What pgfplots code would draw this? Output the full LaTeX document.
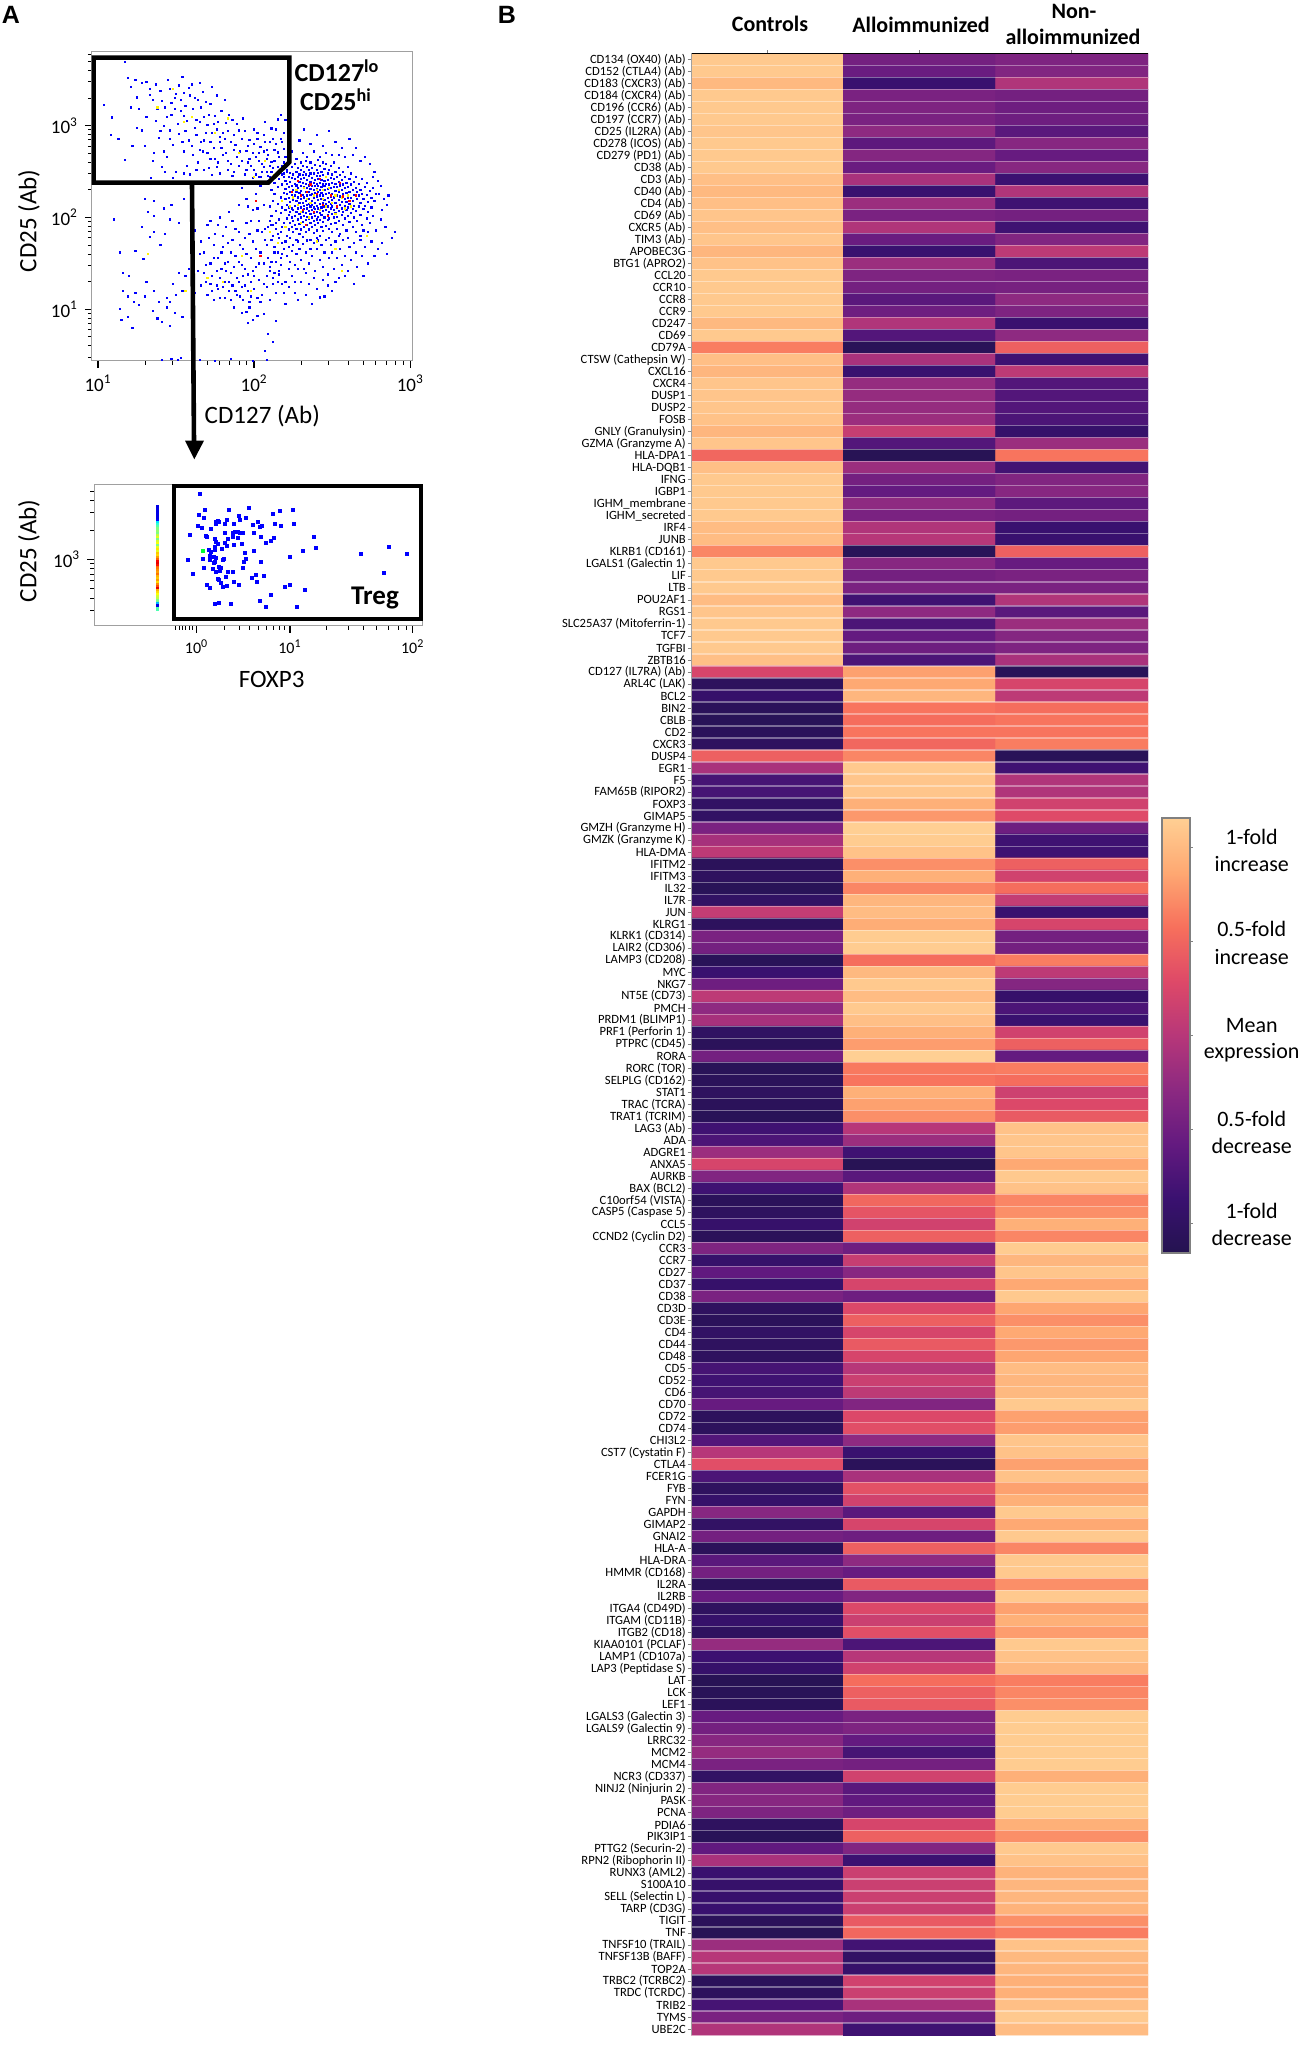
\documentclass[border=0pt]{standalone}
\usepackage{pgfplots}
\usepackage{fontspec}
\setmainfont{Carlito}
\newfontfamily\panelfont{Liberation Sans}
\pgfplotsset{compat=1.18}
\definecolor{framegray}{HTML}{A0A0A0}
\newcommand{\fs}[1]{\fontsize{#1}{#1}\selectfont}

\begin{document}
\begin{tikzpicture}
\path[use as bounding box] (0,0) rectangle (649pt,1023pt);

% A: CD25 vs CD127, values in log10 units
\begin{axis}[
    at={(46pt,842.5pt)}, anchor=south west,
    scale only axis, width=160.5pt, height=154.5pt,
    xmin=0.9615, xmax=3.017, ymin=0.436, ymax=3.804,
    xtick={1,2,3}, xticklabels={10\textsuperscript{1},10\textsuperscript{2},10\textsuperscript{3}},
    ytick={1,2,3}, yticklabels={10\textsuperscript{1},10\textsuperscript{2},10\textsuperscript{3}},
    minor xtick={1.301,1.477,1.602,1.699,1.778,1.845,1.903,1.954,2.301,2.477,2.602,2.699,2.778,2.845,2.903,2.954},
    minor ytick={0.477,0.602,0.699,0.778,0.845,0.903,0.954,1.301,1.477,1.602,1.699,1.778,1.845,1.903,1.954,2.301,2.477,2.602,2.699,2.778,2.845,2.903,2.954,3.301,3.477,3.602,3.699,3.778},
    tick pos=left, tick align=outside,
    major tick length=3.5pt, minor tick length=2pt,
    major tick style={black,line width=.7pt}, minor tick style={black,line width=.5pt},
    axis line style={framegray,line width=.5pt},
    ticklabel style={font=\fs{9.5}},
    only marks, clip=true,
]
\addplot[only marks,mark=square*,mark size=.3pt,color=blue] coordinates {
% inside the gate
(1.17,3.70)(1.04,3.23)(1.09,3.09)(1.25,3.31)(1.21,3.42)(1.28,3.47)(1.31,3.48)(1.37,3.45)(1.24,3.50)(1.19,3.52)
(1.08,2.90)(1.17,2.63)(1.13,2.86)(1.22,2.78)(1.36,2.70)(1.35,2.62)(1.39,2.87)(1.42,3.00)(1.31,3.10)(1.28,2.95)
(1.35,3.28)(1.40,3.38)(1.46,3.40)(1.49,3.30)(1.52,3.44)(1.43,3.20)(1.38,3.18)(1.47,3.12)(1.51,3.02)(1.56,3.22)
(1.55,3.36)(1.60,3.45)(1.58,3.41)(1.62,3.30)(1.65,3.47)(1.67,3.37)(1.69,3.26)(1.71,3.12)(1.73,3.42)(1.74,3.02)
(1.76,3.33)(1.79,3.16)(1.81,3.28)(1.84,3.12)(1.86,3.06)(1.83,2.94)(1.78,2.88)(1.74,2.76)(1.69,2.92)(1.65,3.04)
(1.62,2.98)(1.58,2.84)(1.55,2.72)(1.52,2.91)(1.48,2.79)(1.44,2.66)(1.41,2.55)(1.50,2.50)(1.57,2.56)(1.61,2.68)
(1.64,2.60)(1.67,2.72)(1.71,2.54)(1.75,2.64)(1.78,2.48)(1.82,2.70)(1.85,2.58)(1.88,2.79)(1.90,2.95)(1.92,2.62)
(1.94,2.47)(1.95,2.73)(1.97,2.85)(1.98,2.56)(2.00,2.96)(2.01,2.66)(2.03,2.44)(2.04,2.77)(2.05,2.58)(2.06,2.90)
(2.07,3.04)(2.08,2.50)(2.09,2.68)(2.10,2.82)(2.11,2.61)(2.12,2.44)(2.13,2.74)(2.14,2.96)(2.15,2.55)(2.16,2.66)
(2.17,2.86)(2.18,2.47)(2.19,2.60)(2.19,2.75)(2.20,3.06)(2.21,2.50)(2.20,2.66)(2.17,3.12)(2.15,3.07)(2.11,2.97)
(2.08,2.64)(2.03,2.70)(2.00,2.52)(1.96,2.60)(1.91,2.72)(1.87,2.50)(1.83,2.62)(1.79,2.76)(1.76,2.55)(1.72,2.82)
(1.66,2.82)(1.60,3.10)(1.57,3.05)(1.53,3.16)(1.46,2.95)(1.33,3.40)(1.26,3.18)(1.45,3.50)(1.54,3.53)(1.64,3.28)
(1.77,3.04)(1.89,3.02)(1.93,3.08)(2.02,2.86)(2.06,2.72)(2.12,2.54)(2.16,2.48)(2.09,2.45)(1.99,2.43)(1.86,2.45)
(1.73,2.46)(1.59,2.47)(1.48,2.43)(1.34,2.43)(1.42,2.72)(1.37,3.05)(1.50,3.35)(1.68,3.10)(1.80,2.92)(1.70,2.70)
(1.33,3.34)(1.41,3.27)(1.47,3.25)(1.53,3.28)(1.59,3.33)(1.61,3.18)(1.66,3.20)(1.72,3.24)(1.75,3.11)(1.82,3.03)
(1.87,2.90)(1.92,2.86)(1.96,2.78)(1.99,2.70)(2.03,2.62)(2.06,2.55)(2.10,2.56)(2.13,2.62)(2.15,2.71)(2.18,2.56)
(2.07,2.82)(2.02,2.92)(1.94,2.94)(1.85,2.82)(1.81,2.86)(1.76,2.96)(1.70,3.01)(1.63,3.06)(1.55,3.11)(1.49,3.18)
(1.44,3.10)(1.40,2.94)(1.46,2.86)(1.54,2.82)(1.60,2.78)(1.65,2.74)(1.72,2.64)(1.77,2.60)(1.83,2.52)(1.90,2.56)
(1.95,2.52)(2.01,2.47)(2.05,2.50)(2.11,2.50)(2.14,2.46)(2.18,2.52)(2.19,2.44)(2.04,2.44)(1.97,2.64)(1.89,2.66)
(1.80,2.68)(1.68,2.52)(1.63,2.52)(1.55,2.48)(1.43,2.50)(1.30,2.78)(1.25,2.98)(1.21,3.20)(1.56,2.94)(1.63,2.90)
(1.68,2.84)(1.73,2.92)(1.78,2.82)(1.87,2.74)(2.00,2.80)(2.08,2.74)(2.12,2.86)(2.18,2.82)(2.19,2.92)(2.14,2.80)
% upper right of the cluster
(2.24,2.72)(2.27,2.64)(2.29,2.84)(2.31,2.70)(2.32,2.96)(2.34,2.66)(2.36,2.80)(2.38,2.72)(2.40,2.90)(2.42,2.66)
(2.44,2.78)(2.46,2.70)(2.48,2.94)(2.50,2.68)(2.52,2.82)(2.54,2.68)(2.56,2.76)(2.58,2.66)(2.61,2.86)(2.63,2.68)
(2.65,2.76)(2.68,2.62)(2.71,2.66)(2.74,2.58)(2.77,2.50)(2.76,2.44)(2.79,2.40)(2.81,2.34)(2.80,2.26)(2.83,2.20)
(2.85,2.14)(2.82,2.08)(2.86,2.24)(2.81,1.98)(2.84,1.90)(2.88,1.78)(2.90,1.84)(2.78,1.86)
% dense cluster, slice by slice
(2.10,2.44)(2.10,2.12)(2.10,1.96)(2.11,2.30)(2.11,2.02)(2.12,2.18)(2.12,1.92)(2.13,2.38)(2.13,2.26)(2.14,2.07)
(2.14,1.88)(2.15,2.33)(2.15,2.15)(2.16,2.42)(2.16,1.98)(2.17,2.22)(2.17,2.05)(2.17,1.84)(2.18,2.36)(2.18,2.11)
(2.19,2.27)(2.19,1.94)(2.19,2.48)(2.20,2.40)(2.20,2.20)(2.20,2.08)(2.20,1.90)(2.20,2.31)(2.21,2.52)(2.21,2.14)
(2.21,1.99)(2.21,2.26)(2.21,1.80)(2.21,2.37)(2.22,2.44)(2.22,2.21)(2.22,2.03)(2.22,2.33)(2.22,1.87)(2.22,2.11)
(2.23,2.28)(2.23,2.49)(2.23,1.94)(2.23,2.17)(2.23,2.39)(2.23,2.06)(2.23,1.78)(2.24,2.55)(2.24,2.25)(2.24,2.10)
(2.24,1.90)(2.24,2.34)(2.24,2.00)(2.24,2.43)(2.25,2.19)(2.25,2.30)(2.25,1.96)(2.25,2.47)(2.25,2.08)(2.25,1.84)
(2.26,2.37)(2.26,2.24)(2.26,2.13)(2.26,2.58)(2.26,2.02)(2.26,1.92)(2.26,2.42)(2.27,2.28)(2.27,2.18)(2.27,1.76)
(2.27,2.50)(2.27,2.06)(2.27,2.35)(2.27,1.88)(2.28,2.44)(2.28,2.22)(2.28,2.10)(2.28,1.98)(2.28,2.32)(2.28,2.54)
(2.29,2.16)(2.29,2.39)(2.29,2.04)(2.29,1.82)(2.29,2.27)(2.29,2.47)(2.29,1.93)(2.30,2.60)(2.30,2.34)(2.30,2.20)
(2.30,2.11)(2.30,2.42)(2.30,2.00)(2.30,1.87)(2.30,2.29)(2.30,2.52)(2.31,2.16)(2.31,2.38)(2.31,2.06)(2.31,1.95)
(2.31,2.25)(2.31,2.46)(2.31,1.79)(2.31,2.56)(2.32,2.13)(2.32,2.33)(2.32,2.22)(2.32,2.02)(2.32,1.90)(2.32,2.43)
(2.32,2.50)(2.32,2.09)(2.33,2.28)(2.33,2.18)(2.33,2.37)(2.33,1.97)(2.33,2.62)(2.33,1.84)(2.33,2.05)(2.33,2.47)
(2.34,2.24)(2.34,2.14)(2.34,2.41)(2.34,2.32)(2.34,1.92)(2.34,2.55)(2.34,2.01)(2.34,2.10)(2.35,2.35)(2.35,2.20)
(2.35,2.45)(2.35,2.07)(2.35,1.87)(2.35,2.28)(2.35,1.99)(2.35,2.52)(2.35,2.15)(2.36,2.39)(2.36,2.25)(2.36,1.94)
(2.36,2.04)(2.36,2.60)(2.36,2.31)(2.36,2.12)(2.36,2.48)(2.36,1.76)(2.37,2.18)(2.37,2.43)(2.37,2.08)(2.37,2.34)
(2.37,1.90)(2.37,2.54)(2.37,2.00)(2.37,2.26)(2.37,2.14)(2.38,2.38)(2.38,2.21)(2.38,1.96)(2.38,2.48)(2.38,2.11)
(2.38,2.30)(2.38,1.83)(2.38,2.05)(2.39,2.57)(2.39,2.27)(2.39,2.16)(2.39,2.41)(2.39,2.02)(2.39,1.92)(2.39,2.34)
(2.39,2.09)(2.40,2.45)(2.40,2.23)(2.40,2.13)(2.40,1.98)(2.40,2.31)(2.40,2.52)(2.40,2.06)(2.40,1.86)(2.40,2.37)
(2.41,2.19)(2.41,2.63)(2.41,2.28)(2.41,2.01)(2.41,2.10)(2.41,2.42)(2.41,1.94)(2.41,2.34)(2.41,2.49)(2.42,2.24)
(2.42,2.15)(2.42,2.38)(2.42,2.05)(2.42,1.80)(2.42,2.30)(2.42,2.56)(2.42,1.97)(2.42,2.45)(2.43,2.20)(2.43,2.11)
(2.43,2.33)(2.43,1.90)(2.43,2.50)(2.43,2.27)(2.43,2.03)(2.43,2.41)(2.44,2.16)(2.44,2.36)(2.44,2.60)(2.44,2.07)
(2.44,1.95)(2.44,2.24)(2.44,2.46)(2.44,1.85)(2.45,2.30)(2.45,2.12)(2.45,2.40)(2.45,2.00)(2.45,2.19)(2.45,2.53)
(2.45,2.34)(2.46,2.26)(2.46,2.08)(2.46,2.44)(2.46,1.91)(2.46,2.15)(2.46,2.37)(2.46,2.58)(2.47,2.21)(2.47,2.31)
(2.47,2.03)(2.47,1.97)(2.47,2.48)(2.47,2.12)(2.47,2.41)(2.48,2.27)(2.48,2.17)(2.48,1.88)(2.48,2.36)(2.48,2.06)
(2.48,2.52)(2.48,1.99)(2.49,2.23)(2.49,2.43)(2.49,2.10)(2.49,2.32)(2.49,1.93)(2.49,2.56)(2.49,2.15)(2.50,2.38)
(2.50,2.26)(2.50,2.04)(2.50,2.47)(2.50,2.19)(2.50,1.84)(2.50,2.12)(2.51,2.33)(2.51,2.00)(2.51,2.22)(2.51,2.42)
(2.51,2.08)(2.51,2.60)(2.52,2.29)(2.52,2.16)(2.52,1.94)(2.52,2.37)(2.52,2.05)(2.52,2.50)(2.53,2.24)(2.53,2.11)
(2.53,2.44)(2.53,1.88)(2.53,2.33)(2.53,2.01)(2.54,2.19)(2.54,2.39)(2.54,2.07)(2.54,2.28)(2.54,2.54)(2.54,1.96)
(2.55,2.14)(2.55,2.35)(2.55,2.46)(2.55,2.23)(2.55,1.82)(2.56,2.30)(2.56,2.03)(2.56,2.41)(2.56,2.10)(2.56,2.17)
(2.57,2.26)(2.57,1.92)(2.57,2.36)(2.57,2.50)(2.57,2.06)(2.58,2.20)(2.58,2.32)(2.58,1.99)(2.58,2.13)(2.58,2.44)
(2.59,2.27)(2.59,2.08)(2.59,2.38)(2.59,1.86)(2.59,2.17)(2.60,2.22)(2.60,2.55)(2.60,2.02)(2.60,2.33)(2.60,2.11)
(2.61,2.28)(2.61,1.95)(2.61,2.42)(2.61,2.15)(2.62,2.36)(2.62,2.05)(2.62,2.21)(2.62,2.48)(2.63,2.09)(2.63,2.30)
(2.63,1.90)(2.63,2.18)(2.64,2.39)(2.64,2.25)(2.64,2.00)(2.64,2.13)(2.65,2.32)(2.65,1.84)(2.65,2.07)(2.65,2.44)
(2.66,2.20)(2.66,2.28)(2.66,1.96)(2.67,2.12)(2.67,2.37)(2.67,2.24)(2.68,2.03)(2.68,2.30)(2.68,2.16)(2.69,1.92)
(2.69,2.26)(2.69,2.42)(2.70,2.09)(2.70,2.20)(2.70,1.86)(2.71,2.33)(2.71,2.13)(2.72,2.25)(2.72,1.99)(2.72,2.38)
(2.73,2.17)(2.73,2.06)(2.74,2.29)(2.74,1.94)(2.75,2.21)(2.75,2.11)(2.76,2.32)(2.76,2.02)(2.77,2.18)(2.78,2.26)
% spread under the cluster
(1.92,2.32)(1.95,2.20)(1.97,2.38)(1.99,2.08)(2.01,2.26)(2.03,1.96)(2.04,2.34)(2.06,2.14)(2.07,1.88)(2.09,2.40)
(2.10,1.84)(2.11,1.76)(2.12,1.80)(2.13,1.68)(2.14,1.94)(2.15,1.62)(2.16,1.78)(2.17,1.56)(2.18,1.72)(2.19,1.66)
(2.20,1.74)(2.21,1.58)(2.22,1.68)(2.23,1.52)(2.24,1.64)(2.25,1.70)(2.26,1.48)(2.27,1.60)(2.28,1.74)(2.29,1.66)
(2.30,1.54)(2.31,1.71)(2.32,1.44)(2.33,1.62)(2.34,1.75)(2.35,1.50)(2.36,1.66)(2.37,1.58)(2.38,1.72)(2.39,1.42)
(2.40,1.66)(2.41,1.75)(2.42,1.54)(2.43,1.70)(2.44,1.46)(2.45,1.62)(2.46,1.76)(2.47,1.38)(2.48,1.56)(2.49,1.70)
(2.50,1.62)(2.51,1.44)(2.52,1.74)(2.53,1.56)(2.54,1.34)(2.55,1.66)(2.56,1.48)(2.57,1.76)(2.58,1.58)(2.60,1.42)
(2.61,1.68)(2.62,1.54)(2.64,1.72)(2.65,1.62)(2.66,1.46)(2.68,1.76)(2.69,1.58)(2.71,1.68)(2.73,1.50)(2.75,1.74)
(2.77,1.58)(2.79,1.66)(2.82,1.72)(2.85,1.60)(2.73,1.84)(2.68,1.80)(2.60,1.78)(2.54,1.80)(2.48,1.78)(2.40,1.78)
(2.22,1.44)(2.18,1.60)(2.16,1.42)(2.14,1.52)(2.12,1.34)(2.10,1.46)(2.08,1.36)(2.24,1.36)(2.28,1.44)(2.30,1.30)
(2.33,1.40)(2.35,1.28)(2.38,1.34)(2.40,1.22)(2.44,1.32)(2.47,1.26)(2.52,1.30)(2.58,1.36)(2.64,1.28)(2.70,1.36)
(2.22,1.24)(2.26,1.18)(2.33,1.16)(2.37,1.06)(2.42,1.13)(2.45,1.14)(2.50,1.20)(2.28,1.10)(2.19,1.18)(2.26,1.30)
% lower left group
(1.62,1.86)(1.66,1.74)(1.68,1.62)(1.70,1.92)(1.72,1.50)(1.73,1.36)(1.74,1.70)(1.75,1.82)(1.76,1.26)(1.77,1.56)
(1.78,1.12)(1.79,1.44)(1.80,1.68)(1.81,1.30)(1.82,1.90)(1.83,1.52)(1.84,1.20)(1.85,1.40)(1.86,1.76)(1.87,1.02)
(1.88,1.58)(1.89,1.34)(1.90,1.84)(1.91,1.14)(1.92,1.48)(1.93,1.66)(1.94,1.26)(1.95,1.94)(1.96,1.38)(1.97,1.08)
(1.98,1.56)(1.99,1.74)(2.00,1.22)(2.01,1.46)(2.02,1.86)(2.03,1.32)(2.04,1.62)(2.05,1.16)(2.06,1.50)(2.07,1.76)
(2.08,1.24)(2.09,1.56)(2.10,1.42)(2.11,1.92)(2.12,1.28)(2.13,1.62)(2.14,1.18)(2.16,1.38)(2.18,1.28)(2.20,1.06)
(1.64,1.42)(1.66,1.26)(1.68,1.40)(1.70,1.16)(1.72,1.28)(1.74,1.10)(1.76,1.42)(1.78,1.34)(1.80,1.24)(1.82,1.42)
(1.84,1.30)(1.86,1.26)(1.88,1.20)(1.90,1.30)(1.92,1.24)(1.94,1.44)(1.96,1.20)(1.98,1.30)(2.00,1.36)(2.02,1.12)
(1.58,1.44)(1.60,1.30)(1.62,1.18)(1.56,1.36)(1.54,1.20)(1.52,1.40)(1.50,1.16)(1.48,1.28)(1.46,1.08)(1.44,1.12)
(1.72,1.96)(1.78,2.00)(1.84,2.06)(1.90,2.14)(1.86,1.96)(1.80,1.80)(1.96,2.12)(1.94,1.78)(1.98,1.96)(2.02,2.10)
(1.92,0.96)(1.95,0.97)(1.99,0.88)(2.02,0.93)(1.96,0.85)(1.97,1.02)(2.09,0.73)(2.12,0.64)(2.06,0.95)(2.14,0.87)
(1.65,1.60)(1.69,1.48)(1.71,1.78)(1.74,1.56)(1.77,1.92)(1.79,1.62)(1.81,1.50)(1.83,1.72)(1.85,1.62)(1.87,1.46)
(1.88,1.88)(1.90,1.52)(1.91,1.70)(1.93,1.36)(1.95,1.60)(1.97,1.82)(1.99,1.42)(2.01,1.66)(2.03,1.50)(2.05,1.84)
(2.06,1.28)(2.08,1.70)(2.09,1.90)(2.11,1.52)(2.13,1.40)(2.15,1.30)(2.17,1.48)(2.15,1.82)(2.18,1.90)(2.20,1.30)
(1.69,1.30)(1.73,1.20)(1.77,1.22)(1.81,1.12)(1.85,1.10)(1.89,1.16)(1.93,1.10)(1.98,1.14)(2.04,1.08)(2.10,1.10)
% sparse left
(1.14,1.62)(1.16,1.40)(1.20,1.36)(1.10,1.98)(1.24,1.64)(1.29,1.55)(1.33,1.79)(1.36,1.84)(1.40,1.70)(1.43,1.82)
(1.28,1.90)(1.32,2.06)(1.36,2.02)(1.30,2.20)(1.36,2.18)(1.42,2.10)(1.47,2.14)(1.46,1.98)(1.52,1.94)(1.55,2.20)
(1.16,1.20)(1.19,1.14)(1.23,1.08)(1.24,1.18)(1.31,1.30)(1.36,1.20)(1.39,1.08)(1.44,1.02)(1.41,0.86)(1.49,0.96)
(1.14,1.00)(1.15,0.88)(1.19,0.92)(1.22,0.80)(1.26,1.05)(1.30,1.14)(1.35,0.98)(1.38,0.90)(1.46,0.82)(1.54,0.92)
(1.41,0.45)(1.47,0.46)(1.51,0.45)(1.53,0.47)(1.65,0.45)(1.75,0.44)(1.99,0.44)(2.07,0.55)(2.08,0.45)(1.85,0.46)
};
\addplot[only marks,mark=square*,mark size=.3pt,color=yellow] coordinates {
(1.38,3.20)(1.48,3.40)(1.60,3.10)(1.75,2.92)(1.83,3.08)(1.55,3.04)(1.90,2.70)(2.07,2.62)(2.13,2.46)(2.00,2.44)
(2.25,2.22)(2.28,2.14)(2.32,2.32)(2.36,2.16)(2.38,2.24)(2.42,2.08)(2.44,2.20)(2.48,2.32)(2.50,2.16)(2.52,2.04)
(2.54,2.30)(2.56,2.22)(2.58,2.10)(2.60,2.24)(2.62,2.12)(2.40,2.30)(2.34,2.20)(2.30,2.06)(2.27,2.30)(2.46,2.44)
(2.20,1.90)(2.30,1.94)(2.40,1.74)(2.52,1.66)(1.80,1.30)(1.70,1.34)(1.56,1.20)(1.98,1.20)(2.56,1.42)(1.32,1.60)
(2.15,1.72)(2.10,1.84)(1.92,1.58)(2.72,1.80)(2.18,2.18)(2.23,2.12)(2.46,2.12)(2.35,2.00)(2.44,2.30)(2.52,2.24)
};
\addplot[only marks,mark=square*,mark size=.3pt,color=red] coordinates {
(2.24,2.28)(2.30,2.24)(2.34,2.28)(2.40,2.26)(2.44,2.14)(2.49,2.24)(2.53,2.12)(2.57,2.23)(2.61,2.18)(2.65,2.24)
(2.47,2.02)(2.38,2.06)(2.31,2.08)(2.42,2.42)(2.01,2.18)(2.04,1.58)(2.33,1.92)(2.55,2.38)(2.36,2.36)(2.28,2.40)
};
\end{axis}

% A, lower: gated Treg cells
\begin{axis}[
    at={(47.15pt,710pt)}, anchor=south west,
    scale only axis, width=164.2pt, height=70.85pt,
    xmin=-1.096, xmax=2.421, ymin=2.315, ymax=3.771,
    xtick={0,1,2.314}, xticklabels={10\textsuperscript{0},10\textsuperscript{1},10\textsuperscript{2}},
    ytick={3}, yticklabels={10\textsuperscript{3}},
    minor xtick={-.225,-.186,-.15,-.114,-.079,-.043,.30,.464,.571,.66,.75,.82,.886,.946,1.393,1.625,1.786,1.929,2.054,2.161,2.243},
    minor ytick={2.477,2.602,2.699,2.778,2.845,2.903,2.954,3.301,3.477,3.602,3.699},
    tick pos=left, tick align=outside,
    major tick length=3.5pt, minor tick length=2pt,
    major tick style={black,line width=.7pt}, minor tick style={black,line width=.5pt},
    axis line style={framegray,line width=.5pt},
    xticklabel style={font=\fs{8}}, yticklabel style={font=\fs{9.5}},
    colormap/jet, point meta min=0, point meta max=1,
]
\addplot[scatter,only marks,mark=square*,mark size=.6pt,point meta=explicit,scatter/use mapped color={draw=mapped color,fill=mapped color}] coordinates {
(-.418,3.54)[.1](-.418,3.52)[.1](-.418,3.50)[.1](-.418,3.48)[.1](-.418,3.46)[.1](-.418,3.44)[.1](-.418,3.42)[.1](-.418,3.40)[.12]
(-.418,3.38)[.35](-.418,3.36)[.42](-.418,3.34)[.46](-.418,3.32)[.5](-.418,3.30)[.5](-.418,3.28)[.52](-.418,3.26)[.5](-.418,3.24)[.56]
(-.418,3.22)[.6](-.418,3.20)[.5](-.418,3.18)[.58](-.418,3.16)[.62](-.418,3.14)[.5](-.418,3.12)[.6](-.418,3.10)[.65](-.418,3.08)[.6]
(-.418,3.06)[.68](-.418,3.04)[.66](-.418,3.02)[.72](-.418,3.00)[.78](-.418,2.98)[.88](-.418,2.96)[.9](-.418,2.94)[.86](-.418,2.92)[.78]
(-.418,2.90)[.76](-.418,2.88)[.74](-.418,2.86)[.72](-.418,2.84)[.76](-.418,2.82)[.7](-.418,2.80)[.68](-.418,2.78)[.72](-.418,2.76)[.66]
(-.418,2.74)[.74](-.418,2.72)[.8](-.418,2.70)[.9](-.418,2.68)[.7](-.418,2.66)[.66](-.418,2.64)[.62](-.418,2.62)[.58](-.418,2.60)[.56]
(-.418,2.58)[.5](-.418,2.56)[.48](-.418,2.54)[.3](-.418,2.52)[.1](-.418,2.50)[.1](-.418,2.49)[.45]
};
\addplot[only marks,mark=square*,mark size=.75pt,color=blue] coordinates {
(.04,3.67)(.09,3.51)(.02,3.46)(.08,3.43)(.35,3.51)(.56,3.53)(.82,3.47)(.89,3.50)(1.03,3.51)(.45,3.45)
(.53,3.43)(.46,3.40)(.23,3.39)(.21,3.38)(.21,3.36)(.24,3.38)(.32,3.40)(.01,3.34)(.06,3.32)(.15,3.31)
(.30,3.27)(.30,3.36)(.40,3.36)(.60,3.35)(.66,3.38)(.70,3.34)(.68,3.33)(.84,3.36)(.90,3.34)(1.04,3.36)
(-.07,3.25)(.10,3.24)(.11,3.23)(.20,3.21)(.21,3.18)(.23,3.16)(.30,3.17)(.34,3.21)(.39,3.23)(.39,3.27)
(.41,3.28)(.44,3.28)(.46,3.27)(.50,3.27)(.61,3.27)(.44,3.22)(.48,3.16)(.69,3.23)(.74,3.17)(.79,3.19)
(.83,3.22)(1.26,3.23)(1.28,3.12)(1.14,3.09)(1.00,3.03)(.13,3.10)(.15,3.08)(.14,3.04)(.20,3.13)(.20,3.10)
(.18,3.03)(.27,3.11)(.32,3.14)(.40,3.15)(.52,3.07)(.61,3.09)(.21,3.01)(.29,3.00)(.28,2.99)(.53,3.00)
(.51,2.97)(.69,2.97)(-.09,2.99)(.07,3.00)(.14,2.99)(.18,2.96)(.20,2.97)(.24,2.92)(.26,2.91)(.08,2.91)
(.17,2.90)(.21,2.87)(.25,2.88)(.33,2.87)(.39,2.87)(.50,2.91)(-.04,2.85)(.23,2.80)(.24,2.79)(.26,2.76)
(.31,2.82)(.40,2.77)(.45,2.74)(.59,2.81)(.63,2.84)(.64,2.77)(.72,2.83)(.11,2.74)(.14,2.71)(.28,2.72)
(.32,2.73)(.94,2.72)(1.00,2.74)(1.16,2.69)(.79,2.63)(.68,2.57)(.20,2.54)(.24,2.55)(.37,2.54)(.74,2.51)
(1.07,2.51)(1.76,3.06)(2.06,3.13)(2.25,3.06)(2.01,2.86)
};
\addplot[only marks,mark=square*,mark size=.75pt,color=green!80!cyan] coordinates {(.07,3.09)};
\end{axis}

% B: heat map, colour = position on the colour bar (0 to 100)
\begin{axis}[
    at={(345.5pt,5.5pt)}, anchor=south west,
    scale only axis, width=228.5pt, height=990.75pt,
    xmin=-.5, xmax=2.5, ymin=.5, ymax=165.5, y dir=reverse,
    enlargelimits=false, axis on top,
    xtick={0,1,2}, xticklabels={,,},
    ytick={1,...,165},
    minor y tick num=1, yminorgrids,
    minor grid style={white,opacity=.38,line width=.6pt},
    minor tick length=0pt,
    tick align=outside, major tick length=1.6pt,
    tick style={gray,line width=.4pt},
    xtick pos=right, ytick pos=left,
    axis line style={draw=none},
    yticklabel style={font=\fs{6.3},inner sep=.8pt},
    yticklabels={
CD134 (OX40) (Ab),CD152 (CTLA4) (Ab),CD183 (CXCR3) (Ab),CD184 (CXCR4) (Ab),CD196 (CCR6) (Ab),CD197 (CCR7) (Ab),CD25 (IL2RA) (Ab),CD278 (ICOS) (Ab),CD279 (PD1) (Ab),CD38 (Ab),
CD3 (Ab),CD40 (Ab),CD4 (Ab),CD69 (Ab),CXCR5 (Ab),TIM3 (Ab),APOBEC3G,BTG1 (APRO2),CCL20,CCR10,
CCR8,CCR9,CD247,CD69,CD79A,CTSW (Cathepsin W),CXCL16,CXCR4,DUSP1,DUSP2,
FOSB,GNLY (Granulysin),GZMA (Granzyme A),HLA-DPA1,HLA-DQB1,IFNG,IGBP1,IGHM\_membrane,IGHM\_secreted,IRF4,
JUNB,KLRB1 (CD161),LGALS1 (Galectin 1),LIF,LTB,POU2AF1,RGS1,SLC25A37 (Mitoferrin-1),TCF7,TGFBI,
ZBTB16,CD127 (IL7RA) (Ab),ARL4C (LAK),BCL2,BIN2,CBLB,CD2,CXCR3,DUSP4,EGR1,
F5,FAM65B (RIPOR2),FOXP3,GIMAP5,GMZH (Granzyme H),GMZK (Granzyme K),HLA-DMA,IFITM2,IFITM3,IL32,
IL7R,JUN,KLRG1,KLRK1 (CD314),LAIR2 (CD306),LAMP3 (CD208),MYC,NKG7,NT5E (CD73),PMCH,
PRDM1 (BLIMP1),PRF1 (Perforin 1),PTPRC (CD45),RORA,RORC (TOR),SELPLG (CD162),STAT1,TRAC (TCRA),TRAT1 (TCRIM),LAG3 (Ab),
ADA,ADGRE1,ANXA5,AURKB,BAX (BCL2),C10orf54 (VISTA),CASP5 (Caspase 5),CCL5,CCND2 (Cyclin D2),CCR3,
CCR7,CD27,CD37,CD38,CD3D,CD3E,CD4,CD44,CD48,CD5,
CD52,CD6,CD70,CD72,CD74,CHI3L2,CST7 (Cystatin F),CTLA4,FCER1G,FYB,
FYN,GAPDH,GIMAP2,GNAI2,HLA-A,HLA-DRA,HMMR (CD168),IL2RA,IL2RB,ITGA4 (CD49D),
ITGAM (CD11B),ITGB2 (CD18),KIAA0101 (PCLAF),LAMP1 (CD107a),LAP3 (Peptidase S),LAT,LCK,LEF1,LGALS3 (Galectin 3),LGALS9 (Galectin 9),
LRRC32,MCM2,MCM4,NCR3 (CD337),NINJ2 (Ninjurin 2),PASK,PCNA,PDIA6,PIK3IP1,PTTG2 (Securin-2),
RPN2 (Ribophorin II),RUNX3 (AML2),S100A10,SELL (Selectin L),TARP (CD3G),TIGIT,TNF,TNFSF10 (TRAIL),TNFSF13B (BAFF),TOP2A,
TRBC2 (TCRBC2),TRDC (TCRDC),TRIB2,TYMS,UBE2C},
    colormap={magma}{rgb255(0)=(36,19,80) rgb255(1)=(58,17,112) rgb255(2)=(100,26,128) rgb255(3)=(140,41,129) rgb255(4)=(183,55,121) rgb255(5)=(222,73,104) rgb255(6)=(247,112,92) rgb255(7)=(254,168,114) rgb255(8)=(255,207,147)},
    point meta min=0, point meta max=100,
    colorbar,
    colorbar style={
        at={(1.0306,.3948)}, anchor=south west,
        scale only axis, width=14pt, height=217.2pt,
        ytick={6.7,28.4,50,71.7,93.4}, yticklabels={,,,,},
        ytick pos=right, tick align=outside,
        major tick length=1.5pt, tick style={gray,line width=.4pt},
        axis line style={gray,line width=.9pt},
    },
]
\addplot[matrix plot*,mesh/cols=3,point meta=explicit] coordinates {
(0,1)[98](1,1)[30](2,1)[33]
(0,2)[98](1,2)[27](2,2)[34]
(0,3)[93](1,3)[12](2,3)[48]
(0,4)[98](1,4)[32](2,4)[30]
(0,5)[98](1,5)[33](2,5)[28]
(0,6)[98](1,6)[32](2,6)[28]
(0,7)[97](1,7)[38](2,7)[22]
(0,8)[98](1,8)[23](2,8)[36]
(0,9)[98](1,9)[35](2,9)[26]
(0,10)[98](1,10)[27](2,10)[36]
(0,11)[95](1,11)[46](2,11)[13]
(0,12)[93](1,12)[12](2,12)[48]
(0,13)[95](1,13)[42](2,13)[14]
(0,14)[97](1,14)[32](2,14)[30]
(0,15)[95](1,15)[48](2,15)[14]
(0,16)[97](1,16)[27](2,16)[34]
(0,17)[92](1,17)[12](2,17)[52]
(0,18)[96](1,18)[42](2,18)[18]
(0,19)[98](1,19)[33](2,19)[32]
(0,20)[98](1,20)[30](2,20)[31]
(0,21)[98](1,21)[22](2,21)[38]
(0,22)[98](1,22)[28](2,22)[33]
(0,23)[93](1,23)[48](2,23)[12]
(0,24)[98](1,24)[20](2,24)[38]
(0,25)[78](1,25)[3](2,25)[70]
(0,26)[95](1,26)[46](2,26)[14]
(0,27)[92](1,27)[12](2,27)[52]
(0,28)[97](1,28)[40](2,28)[20]
(0,29)[97](1,29)[40](2,29)[20]
(0,30)[97](1,30)[40](2,30)[20]
(0,31)[96](1,31)[42](2,31)[18]
(0,32)[92](1,32)[55](2,32)[10]
(0,33)[97](1,33)[20](2,33)[42]
(0,34)[72](1,34)[2](2,34)[76]
(0,35)[95](1,35)[42](2,35)[15]
(0,36)[98](1,36)[30](2,36)[34]
(0,37)[98](1,37)[25](2,37)[36]
(0,38)[98](1,38)[38](2,38)[23]
(0,39)[98](1,39)[32](2,39)[30]
(0,40)[94](1,40)[48](2,40)[12]
(0,41)[94](1,41)[50](2,41)[12]
(0,42)[80](1,42)[3](2,42)[70]
(0,43)[98](1,43)[36](2,43)[26]
(0,44)[98](1,44)[30](2,44)[32]
(0,45)[98](1,45)[32](2,45)[32]
(0,46)[94](1,46)[14](2,46)[48]
(0,47)[97](1,47)[38](2,47)[22]
(0,48)[98](1,48)[18](2,48)[42]
(0,49)[98](1,49)[25](2,49)[35]
(0,50)[98](1,50)[28](2,50)[33]
(0,51)[95](1,51)[18](2,51)[46]
(0,52)[60](1,52)[86](2,52)[3]
(0,53)[5](1,53)[88](2,53)[60]
(0,54)[10](1,54)[92](2,54)[52]
(0,55)[4](1,55)[76](2,55)[74]
(0,56)[3](1,56)[74](2,56)[76]
(0,57)[4](1,57)[76](2,57)[76]
(0,58)[6](1,58)[72](2,58)[78]
(0,59)[70](1,59)[80](2,59)[3]
(0,60)[46](1,60)[98](2,60)[14]
(0,61)[16](1,61)[97](2,61)[48]
(0,62)[16](1,62)[97](2,62)[48]
(0,63)[8](1,63)[90](2,63)[58]
(0,64)[8](1,64)[84](2,64)[63]
(0,65)[32](1,65)[100](2,65)[28]
(0,66)[45](1,66)[99](2,66)[14]
(0,67)[52](1,67)[96](2,67)[14]
(0,68)[4](1,68)[82](2,68)[70]
(0,69)[6](1,69)[90](2,69)[58]
(0,70)[3](1,70)[80](2,70)[74]
(0,71)[8](1,71)[92](2,71)[54]
(0,72)[54](1,72)[94](2,72)[12]
(0,73)[5](1,73)[89](2,73)[60]
(0,74)[32](1,74)[99](2,74)[30]
(0,75)[30](1,75)[99](2,75)[30]
(0,76)[3](1,76)[74](2,76)[78]
(0,77)[12](1,77)[93](2,77)[52]
(0,78)[28](1,78)[98](2,78)[35]
(0,79)[52](1,79)[94](2,79)[10]
(0,80)[38](1,80)[98](2,80)[18]
(0,81)[45](1,81)[95](2,81)[12]
(0,82)[7](1,82)[90](2,82)[58]
(0,83)[4](1,83)[85](2,83)[70]
(0,84)[30](1,84)[100](2,84)[25]
(0,85)[3](1,85)[77](2,85)[78]
(0,86)[4](1,86)[76](2,86)[74]
(0,87)[6](1,87)[90](2,87)[57]
(0,88)[4](1,88)[86](2,88)[62]
(0,89)[3](1,89)[82](2,89)[68]
(0,90)[14](1,90)[50](2,90)[96]
(0,91)[18](1,91)[42](2,91)[97]
(0,92)[42](1,92)[14](2,92)[97]
(0,93)[60](1,93)[2](2,93)[88]
(0,94)[34](1,94)[22](2,94)[98]
(0,95)[14](1,95)[48](2,95)[96]
(0,96)[4](1,96)[72](2,96)[80]
(0,97)[6](1,97)[66](2,97)[82]
(0,98)[10](1,98)[58](2,98)[90]
(0,99)[4](1,99)[70](2,99)[80]
(0,100)[33](1,100)[28](2,100)[99]
(0,101)[10](1,101)[55](2,101)[92]
(0,102)[24](1,102)[36](2,102)[97]
(0,103)[10](1,103)[60](2,103)[88]
(0,104)[32](1,104)[28](2,104)[98]
(0,105)[6](1,105)[62](2,105)[87]
(0,106)[4](1,106)[70](2,106)[82]
(0,107)[8](1,107)[60](2,107)[88]
(0,108)[6](1,108)[68](2,108)[84]
(0,109)[6](1,109)[60](2,109)[87]
(0,110)[16](1,110)[50](2,110)[94]
(0,111)[14](1,111)[56](2,111)[92]
(0,112)[16](1,112)[52](2,112)[93]
(0,113)[26](1,113)[34](2,113)[98]
(0,114)[5](1,114)[62](2,114)[86]
(0,115)[5](1,115)[64](2,115)[85]
(0,116)[20](1,116)[38](2,116)[97]
(0,117)[50](1,117)[12](2,117)[96]
(0,118)[64](1,118)[4](2,118)[86]
(0,119)[18](1,119)[46](2,119)[96]
(0,120)[6](1,120)[65](2,120)[86]
(0,121)[10](1,121)[58](2,121)[90]
(0,122)[36](1,122)[22](2,122)[98]
(0,123)[8](1,123)[60](2,123)[88]
(0,124)[30](1,124)[28](2,124)[98]
(0,125)[4](1,125)[70](2,125)[80]
(0,126)[22](1,126)[38](2,126)[98]
(0,127)[30](1,127)[26](2,127)[98]
(0,128)[4](1,128)[68](2,128)[82]
(0,129)[26](1,129)[34](2,129)[98]
(0,130)[6](1,130)[62](2,130)[86]
(0,131)[10](1,131)[56](2,131)[90]
(0,132)[6](1,132)[64](2,132)[85]
(0,133)[40](1,133)[18](2,133)[98]
(0,134)[13](1,134)[50](2,134)[96]
(0,135)[10](1,135)[58](2,135)[92]
(0,136)[2](1,136)[74](2,136)[78]
(0,137)[3](1,137)[70](2,137)[80]
(0,138)[4](1,138)[68](2,138)[82]
(0,139)[26](1,139)[32](2,139)[99]
(0,140)[30](1,140)[33](2,140)[99]
(0,141)[36](1,141)[25](2,141)[99]
(0,142)[40](1,142)[16](2,142)[99]
(0,143)[32](1,143)[30](2,143)[99]
(0,144)[8](1,144)[58](2,144)[90]
(0,145)[34](1,145)[22](2,145)[99]
(0,146)[36](1,146)[24](2,146)[99]
(0,147)[33](1,147)[28](2,147)[99]
(0,148)[6](1,148)[60](2,148)[90]
(0,149)[3](1,149)[70](2,149)[82]
(0,150)[24](1,150)[34](2,150)[98]
(0,151)[46](1,151)[13](2,151)[96]
(0,152)[12](1,152)[56](2,152)[91]
(0,153)[10](1,153)[56](2,153)[92]
(0,154)[11](1,154)[56](2,154)[92]
(0,155)[12](1,155)[56](2,155)[91]
(0,156)[4](1,156)[68](2,156)[82]
(0,157)[2](1,157)[72](2,157)[78]
(0,158)[42](1,158)[15](2,158)[96]
(0,159)[50](1,159)[8](2,159)[93]
(0,160)[50](1,160)[10](2,160)[92]
(0,161)[4](1,161)[58](2,161)[90]
(0,162)[5](1,162)[56](2,162)[90]
(0,163)[16](1,163)[46](2,163)[95]
(0,164)[32](1,164)[28](2,164)[98]
(0,165)[48](1,165)[14](2,165)[94]
};
\end{axis}

% annotations, in pixels of the reference (y downwards)
\begin{scope}[shift={(0,1023pt)},x=.5pt,y=-.5pt]
\draw[line width=2.2pt,black,line join=miter] (93.7,57.7) -- (289.3,57.7) -- (289.3,162.3) -- (268.3,182.7) -- (93.7,182.7) -- cycle;
\draw[line width=2.3pt,black] (192,183) -- (194,442);
\fill[black] (185,440.7) -- (204,440.7) -- (194.3,459.3) -- cycle;
\draw[line width=2.2pt,black] (174,486.3) rectangle (421,619);
\node[font=\fs{13}\bfseries] at (337,71) {CD127\textsuperscript{lo}};
\node[font=\fs{13}\bfseries] at (336,100) {CD25\textsuperscript{hi}};
\node[font=\fs{12.5},anchor=west,inner sep=0pt] at (204.3,416) {CD127 (Ab)};
\node[font=\fs{12.5}] at (271.7,679) {FOXP3};
\node[font=\fs{12.5},rotate=90] at (29,221) {CD25 (Ab)};
\node[font=\fs{12.5},rotate=90] at (29,551) {CD25 (Ab)};
\node[font=\fs{13.5}\bfseries] at (375,598) {Treg};
\node[font=\fs{12.5}\bfseries\panelfont] at (11,15) {A};
\node[font=\fs{12.5}\bfseries\panelfont] at (507,15) {B};
\node[font=\fs{11}\bfseries] at (770,24) {Controls};
\node[font=\fs{11}\bfseries] at (921,25) {Alloimmunized};
\node[font=\fs{11}\bfseries] at (1074,11) {Non-};
\node[font=\fs{11}\bfseries] at (1073,37) {alloimmunized};
\draw[black,line width=.6pt] (691,53.5) -- (1148,53.5);
\draw[framegray,line width=.5pt] (691,53.5) -- (691,2035);
\node[font=\fs{11}] at (1251.7,837) {1-fold};
\node[font=\fs{11}] at (1251.7,864) {increase};
\node[font=\fs{11}] at (1251.7,929) {0.5-fold};
\node[font=\fs{11}] at (1251.7,957) {increase};
\node[font=\fs{11}] at (1251.7,1026) {Mean};
\node[font=\fs{11}] at (1251.7,1053) {expression};
\node[font=\fs{11}] at (1251.7,1119) {0.5-fold};
\node[font=\fs{11}] at (1251.7,1146) {decrease};
\node[font=\fs{11}] at (1251.7,1211) {1-fold};
\node[font=\fs{11}] at (1251.7,1238) {decrease};
\end{scope}
\end{tikzpicture}
\end{document}
